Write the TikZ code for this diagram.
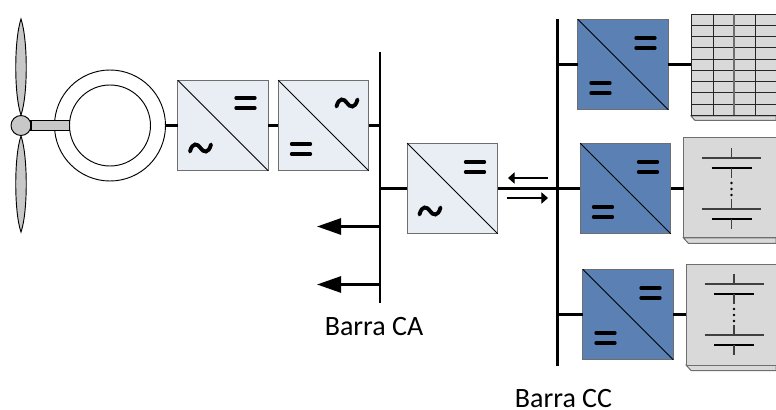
\documentclass[tikz,border=0pt]{standalone}
\usepackage{fontspec}
\setmainfont{Carlito}
\usetikzlibrary{arrows.meta}
\definecolor{lightfill}{HTML}{E9EDF4}
\definecolor{bluefill}{HTML}{5A80B4}
\definecolor{panelgrey}{HTML}{D9D9D9}
\definecolor{bladegrey}{HTML}{C8C8C8}
\definecolor{edgegrey}{HTML}{6E6E6E}
\tikzset{
  convbox/.style={draw=edgegrey,line width=0.9pt,minimum size=68pt,inner sep=0pt,outer sep=0pt},
  lightconv/.style={convbox,fill=lightfill},
  blueconv/.style={convbox,fill=bluefill},
  diag/.style={draw=black,line width=0.7pt},
  symbar/.style={line width=2.5pt,line cap=round,black},
  tildeline/.style={line width=2.9pt,line cap=round,black},
  bus/.style={line width=2.1pt,black},
  link/.style={line width=1.8pt,black},
  panel/.style={fill=panelgrey},
  paneledge/.style={draw=black!80,line width=0.75pt},
  shadowedge/.style={fill=white!85!black,draw=edgegrey,line width=0.75pt},
  plate/.style={line width=0.9pt,black!75},
  loadarrow/.style={line width=2pt,-{Triangle[length=18pt,width=12pt]}},
  flowarrow/.style={line width=0.8pt,-{Triangle[length=5pt,width=8.5pt]}},
  blade/.style={fill=bladegrey,draw=black,line width=0.7pt},
  label/.style={font=\fontsize{21}{24}\selectfont,inner sep=0pt,anchor=base}
}
\newcommand{\eqsym}[2]{%
  \draw[symbar] (#1+1.5,#2) -- ++(19,0);
  \draw[symbar] (#1+1.5,#2+10) -- ++(19,0);}
\newcommand{\acsym}[2]{%
  \draw[tildeline] (#1+1.5,#2+3.5) .. controls (#1+4,#2-6) and (#1+9,#2-4.5) .. (#1+12,#2)
     .. controls (#1+15,#2+4.5) and (#1+20,#2+6) .. (#1+22.5,#2-3.5);}
\begin{document}
\begin{tikzpicture}[x=0.75pt,y=-0.75pt]
\useasboundingbox (0,0) rectangle (776,410);
\clip (0,0) rectangle (776,410);

% named points on the bars
\coordinate (caTop) at (380,52);
\coordinate (caBot) at (380,303);
\coordinate (ccTop) at (557.5,19);
\coordinate (ccBot) at (557.5,366);
\coordinate (loadOne) at (317,226.5);
\coordinate (loadTwo) at (317,284.5);

% wind turbine
\path[blade] (21,19) .. controls (14,40) and (14,95) .. (21,115) .. controls (28,95) and (28,40) .. (21,19) -- cycle;
\path[blade] (21,136) .. controls (14,156) and (14,212) .. (21,232) .. controls (28,212) and (28,156) .. (21,136) -- cycle;
\node[circle,draw=black,line width=0.7pt,minimum size=83.25pt,inner sep=0pt,outer sep=0pt] (genOuter) at (110,125.5) {};
\node[circle,draw=black,line width=0.7pt,fill=white,minimum size=60.75pt,inner sep=0pt,outer sep=0pt] (genInner) at (110,125.5) {};
\node[circle,blade,minimum size=15pt,inner sep=0pt,outer sep=0pt] (hub) at (21,125.5) {};
\draw[fill=bladegrey,draw=black,line width=0.9pt] (hub.east |- 0,120.5) rectangle (69.5,130.5);

% converters
\node[lightconv] (convA) at (223,125.5) {};
\node[lightconv] (convB) at (323.5,125.5) {};
\node[lightconv] (convC) at (452.5,188.5) {};
\node[blueconv] (convD) at (623,64.5) {};
\node[blueconv] (convE) at (625.5,188.5) {};
\node[blueconv] (convF) at (628,314.5) {};
\foreach \n in {convA,convB,convC,convD,convE,convF}
  \draw[diag] (\n.north west) -- (\n.south east);

\begin{scope}[shift={(177.5,80)}] \eqsym{57}{18} \acsym{11}{68} \end{scope}
\begin{scope}[shift={(278,80)}] \acsym{57}{23} \eqsym{12}{64} \end{scope}
\begin{scope}[shift={(407,143)}] \eqsym{57}{19} \acsym{11}{68} \end{scope}
\begin{scope}[shift={(577.5,19)}] \eqsym{57}{19} \eqsym{12}{64} \end{scope}
\begin{scope}[shift={(580,143)}] \eqsym{57}{19} \eqsym{12}{64} \end{scope}
\begin{scope}[shift={(582.5,269)}] \eqsym{57}{19} \eqsym{12}{64} \end{scope}

% solar panel
\path[shadowedge] (691,116) -- (695,120.5) -- (776,120.5) -- (776,116) -- cycle;
\node[panel,minimum width=63.75pt,minimum height=76.5pt,inner sep=0pt,outer sep=0pt] (pv) at (733.5,65) {};
\foreach \y in {14.5,26,37,48,59.5,70.5,82,93,104.5,115.5}
  \draw[line width=0.75pt,black!85] (691,\y) -- (776,\y);
\foreach \x in {691,713,755}
  \draw[line width=0.75pt,black!85] (\x,14.5) -- (\x,115.5);
\draw[line width=1pt,edgegrey] (734,14.5) -- (734,115.5);

% batteries
\foreach \top/\bot/\lft/\cx in {138/238/683.5/731.5,264/365/686/734}{
  \path[shadowedge] (\lft,\bot) -- (\lft+5,\bot+5.5) -- (776,\bot+5.5) -- (776,\bot) -- cycle;
  \path[panel,paneledge,draw=edgegrey] (776,\top) -- (\lft,\top) -- (\lft,\bot) -- (776,\bot);
  \draw[plate] (\cx,\top+10) -- (\cx,\top+20);
  \draw[plate] (\cx-29.5,\top+20) -- (\cx+29.5,\top+20);
  \draw[line width=1.1pt,black] (\cx-20,\top+30) -- (\cx+20,\top+30);
  \draw[plate] (\cx,\top+30) -- (\cx,\top+40);
  \foreach \d in {45,51,57}
    \fill (\cx,\top+\d) circle (1.1pt);
  \draw[plate] (\cx,\top+61) -- (\cx,\top+71);
  \draw[plate] (\cx-29.5,\top+71) -- (\cx+29.5,\top+71);
  \draw[line width=1.1pt,black] (\cx-20,\top+81) -- (\cx+20,\top+81);
  \draw[plate] (\cx,\top+81) -- (\cx,\top+91);
}
\coordinate (batEin) at (683.5,188.5);
\coordinate (batFin) at (686,314.5);

% connectors
\draw[link] (genOuter.east) -- (convA.west);
\draw[link] (convA.east) -- (convB.west);
\draw[link] (convB.east) -- (convB.east -| caTop);
\draw[link] (convC.west -| caTop) -- (convC.west);
\draw[link] (convC.east) -- (convC.east -| ccTop);
\draw[link] (convD.west -| ccTop) -- (convD.west);
\draw[link] (convE.west -| ccTop) -- (convE.west);
\draw[link] (convF.west -| ccTop) -- (convF.west);
\draw[link] (convD.east) -- (pv.west |- convD.east);
\draw[link] (convE.east) -- (batEin);
\draw[link] (convF.east) -- (batFin);

% buses
\draw[bus] (caTop) -- (caBot);
\draw[bus] (ccTop) -- (ccBot);

% load arrows
\draw[loadarrow] (loadOne -| caTop) -- (loadOne);
\draw[loadarrow] (loadTwo -| caTop) -- (loadTwo);

% power flow arrows
\coordinate (flowInR) at (548,178);
\coordinate (flowInL) at (508,178);
\coordinate (flowOutL) at (507,198);
\coordinate (flowOutR) at (548,198);
\draw[flowarrow] (flowInR) -- (flowInL);
\draw[flowarrow] (flowOutL) -- (flowOutR);

% labels
\node[label] (barraCA) at (374,335) {Barra CA};
\node[label] (barraCC) at (563.5,407.5) {Barra CC};
\end{tikzpicture}
\end{document}
